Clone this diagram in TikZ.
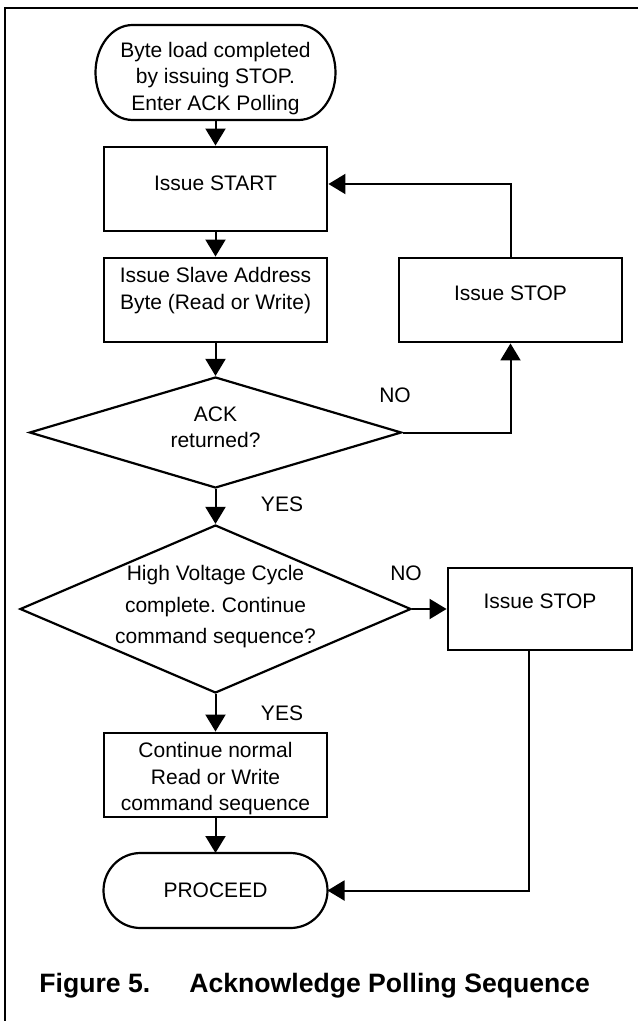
\documentclass[tikz,border=0pt]{standalone}
\usepackage{fontspec}
\setmainfont{Liberation Sans}
\usetikzlibrary{arrows.meta,shapes.geometric}
\frenchspacing
\newcommand\upby[2]{\raisebox{#1}[\height][\depth]{#2}}
\newcommand\nfont{\fontsize{10.5pt}{13.25pt}\selectfont}
\newcommand\hvfont{\fontsize{10.5pt}{15.75pt}\selectfont}
\newcommand\tl[1]{\begin{tabular}{@{}c@{}}#1\end{tabular}}
\begin{document}
\begin{tikzpicture}[x=0.5pt,y=-0.5pt,
  box/.style={rectangle,draw,line width=1.45pt,minimum width=111.5pt,minimum height=42pt,inner sep=0pt,font=\nfont},
  termnode/.style={rectangle,inner sep=0pt,outer sep=0pt,font=\nfont},
  termline/.style={line width=1.1pt},
  dec/.style={diamond,draw,line width=1.1pt,inner sep=0pt,font=\nfont},
  conn/.style={line width=1pt,-{Triangle[length=8.5pt,width=10pt]}},
  lbl/.style={font=\nfont,inner sep=0pt},
  captxt/.style={font={\fontsize{13.3pt}{16pt}\selectfont\bfseries},anchor=base west,inner sep=0pt}
]
\useasboundingbox (0,0) rectangle (638,1021);
% frame
\draw[line width=1.1pt] (638,8) -- (5,8) -- (5,1021);

% nodes
\node[termnode,minimum width=120pt,minimum height=47.5pt] (start) at (215.5,72.5)
  {\upby{-3.1pt}{\tl{Byte load completed\\by issuing STOP.\\Enter ACK Polling}}};
\draw[termline] ([xshift=18.5pt]start.north west) -- ([xshift=-18.5pt]start.north east)
  arc[start angle=90,end angle=-90,x radius=18.5pt,y radius=23.75pt]
  -- ([xshift=18.5pt]start.south west)
  arc[start angle=270,end angle=90,x radius=18.5pt,y radius=23.75pt] -- cycle;

\node[box] (istart) at (215.5,189) {\upby{3pt}{Issue START}};
\node[box] (slave) at (215.5,300) {\upby{4.65pt}{\tl{Issue Slave Address\\Byte (Read or Write)}}};
\node[box] (stop1) at (510.5,300) {\upby{3.5pt}{Issue STOP}};
\node[dec,minimum width=186pt,minimum height=55.5pt] (ack) at (215.5,432.5)
  {\makebox[0pt]{\upby{1.65pt}{\tl{ACK\\returned?}}}};
\node[dec,minimum width=195.5pt,minimum height=84pt,font=\hvfont] (hv) at (215.5,609)
  {\makebox[0pt]{\upby{1.64pt}{\tl{High Voltage Cycle\\complete. Continue\\command sequence?}}}};
\node[box,minimum width=92pt,minimum height=41pt] (stop2) at (540,609) {\upby{4pt}{Issue STOP}};
\node[box] (cont) at (215.5,775) {\upby{-1.95pt}{\tl{Continue normal\\Read or Write\\command sequence}}};
\node[termnode,minimum width=112pt,minimum height=37.5pt] (proc) at (215.5,890.5) {PROCEED};
\draw[termline] ([xshift=18.5pt]proc.north west) -- ([xshift=-18.5pt]proc.north east)
  arc[start angle=90,end angle=-90,x radius=18.5pt,y radius=18.75pt]
  -- ([xshift=18.5pt]proc.south west)
  arc[start angle=270,end angle=90,x radius=18.5pt,y radius=18.75pt] -- cycle;

% connectors
\draw[conn] (start.south) -- (istart.north);
\draw[conn] (istart.south) -- (slave.north);
\draw[conn] (slave.south) -- (ack.north);
\draw[conn] (ack.south) -- (hv.north);
\draw[conn] (hv.south) -- (cont.north);
\draw[conn] (cont.south) -- (proc.north);
\draw[conn] (ack.east) -| (stop1.south);
\draw[conn] (stop1.north) |- ([yshift=2.5pt]istart.east);
\draw[conn] (hv.east) -- (stop2.west);
\draw[conn] ([xshift=-5.5pt]stop2.south) |- (proc.east);

% labels
\node[lbl] (no1) at (395,395) {NO};
\node[lbl] (yes1) at (282,504) {YES};
\node[lbl] (no2) at (406,573) {NO};
\node[lbl] (yes2) at (282,713) {YES};

% caption
\node[captxt] (fig) at (39,992) {Figure 5.};
\node[captxt] (title) at (189,992) {Acknowledge Polling Sequence};
\end{tikzpicture}
\end{document}
